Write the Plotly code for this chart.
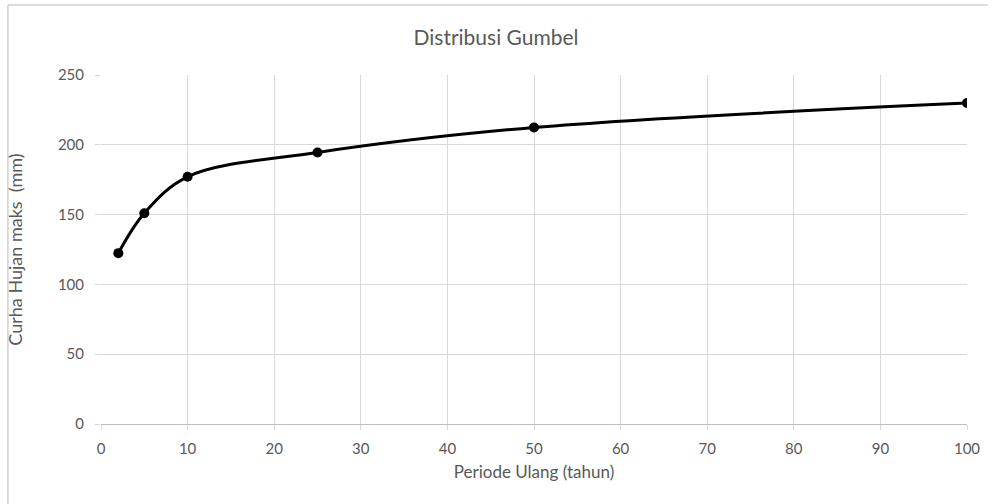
import plotly.graph_objects as go

periode = [2, 5, 10, 25, 50, 100]
curah_hujan = [122.4, 151.0, 177.1, 194.5, 212.4, 229.9]
x_ticks = [0, 10, 20, 30, 40, 50, 60, 70, 80, 90, 100]
y_ticks = [0, 50, 100, 150, 200, 250]

font_family = "Lato, Open Sans, Arial, sans-serif"
grey = "#595959"
gridc = "#d9d9d9"

fig = go.Figure()
fig.add_trace(go.Scatter(
    x=periode, y=curah_hujan, mode="lines+markers",
    line=dict(color="black", width=3, shape="spline", smoothing=1.0),
    marker=dict(color="black", size=10),
    showlegend=False, hoverinfo="x+y",
))

fig.update_layout(
    width=992, height=504,
    margin=dict(l=101, r=21, t=75, b=80),
    paper_bgcolor="white", plot_bgcolor="white",
    font=dict(family=font_family, color=grey, size=15),
    title=dict(text="Distribusi Gumbel", x=0.5, xanchor="center", y=0.925, yanchor="middle",
               font=dict(size=21, color=grey, family=font_family)),
    xaxis=dict(range=[0, 100], tickvals=x_ticks, showgrid=True, gridcolor=gridc, gridwidth=1,
               zeroline=False, showline=True, linecolor="#bfbfbf", linewidth=1,
               ticks="outside", ticklen=5, tickcolor=gridc, ticklabelstandoff=6,
               title=dict(text="Periode Ulang (tahun)", font=dict(size=17, color=grey), standoff=10),
               tickfont=dict(size=15, color=grey)),
    yaxis=dict(range=[0, 250], tickvals=y_ticks, showgrid=True, gridcolor=gridc, gridwidth=1,
               zeroline=False, showline=False,
               ticks="outside", ticklen=5, tickcolor=gridc, ticklabelstandoff=8,
               title=dict(text="Curha Hujan maks  (mm)", font=dict(size=18, color=grey), standoff=30),
               tickfont=dict(size=15, color=grey)),
    shapes=[
        dict(type="line", xref="paper", yref="paper", x0=-0.1075, x1=-0.1075, y0=-0.229, y1=1.2006,
             line=dict(color="#cfcfcf", width=1.5), layer="above"),
        dict(type="line", xref="paper", yref="paper", x0=-0.1075, x1=1.024, y0=1.2006, y1=1.2006,
             line=dict(color="#cfcfcf", width=1.5), layer="above"),
    ],
)

fig.write_html("out.html", config={"displayModeBar": False},
               post_script="document.body.style.margin='0';document.body.style.overflow='hidden';")
